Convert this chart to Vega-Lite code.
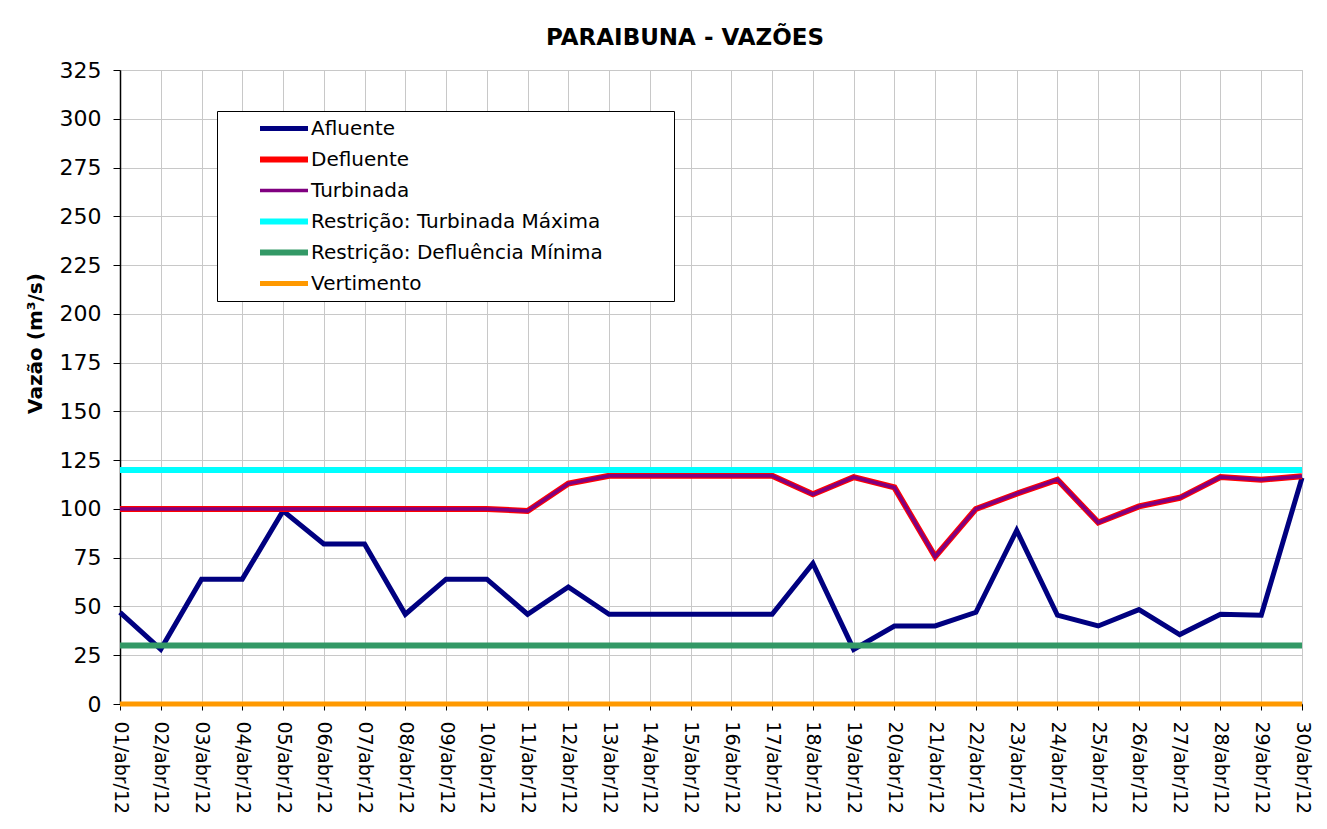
{
  "$schema": "https://vega.github.io/schema/vega-lite/v6.json",
  "autosize": {"type": "none"},
  "width": 1182,
  "height": 634,
  "padding": {"left": 120, "top": 70, "right": 25, "bottom": 125},
  "background": "white",
  "title": {"text": "PARAIBUNA  - VAZÕES", "fontSize": 23, "font": "DejaVu Sans", "fontWeight": "bold", "color": "black", "anchor": "middle", "offset": 9, "dx": -26},
  "config": {
    "font": "DejaVu Sans",
    "view": {"stroke": "#c0c0c0", "strokeWidth": 1},
    "legend": {
      "orient": "none", "legendX": 97, "legendY": 41,
      "strokeColor": "black", "fillColor": "white", "padding": 5,
      "symbolType": "stroke", "symbolSize": 2304, "symbolOffset": 35,
      "labelFontSize": 20, "labelColor": "black", "labelOffset": 0, "labelLimit": 0,
      "clipHeight": 25, "rowPadding": 6,
      "titleOrient": "right", "titlePadding": 66, "titleFontSize": 2
    }
  },
  "data": {"values": [
    {"dia": "01/abr/12", "serie": "Afluente", "valor": 47},
    {"dia": "02/abr/12", "serie": "Afluente", "valor": 28},
    {"dia": "03/abr/12", "serie": "Afluente", "valor": 64},
    {"dia": "04/abr/12", "serie": "Afluente", "valor": 64},
    {"dia": "05/abr/12", "serie": "Afluente", "valor": 99},
    {"dia": "06/abr/12", "serie": "Afluente", "valor": 82},
    {"dia": "07/abr/12", "serie": "Afluente", "valor": 82},
    {"dia": "08/abr/12", "serie": "Afluente", "valor": 46},
    {"dia": "09/abr/12", "serie": "Afluente", "valor": 64},
    {"dia": "10/abr/12", "serie": "Afluente", "valor": 64},
    {"dia": "11/abr/12", "serie": "Afluente", "valor": 46},
    {"dia": "12/abr/12", "serie": "Afluente", "valor": 60},
    {"dia": "13/abr/12", "serie": "Afluente", "valor": 46},
    {"dia": "14/abr/12", "serie": "Afluente", "valor": 46},
    {"dia": "15/abr/12", "serie": "Afluente", "valor": 46},
    {"dia": "16/abr/12", "serie": "Afluente", "valor": 46},
    {"dia": "17/abr/12", "serie": "Afluente", "valor": 46},
    {"dia": "18/abr/12", "serie": "Afluente", "valor": 72},
    {"dia": "19/abr/12", "serie": "Afluente", "valor": 28},
    {"dia": "20/abr/12", "serie": "Afluente", "valor": 40},
    {"dia": "21/abr/12", "serie": "Afluente", "valor": 40},
    {"dia": "22/abr/12", "serie": "Afluente", "valor": 47},
    {"dia": "23/abr/12", "serie": "Afluente", "valor": 89},
    {"dia": "24/abr/12", "serie": "Afluente", "valor": 45.5},
    {"dia": "25/abr/12", "serie": "Afluente", "valor": 40},
    {"dia": "26/abr/12", "serie": "Afluente", "valor": 48.4},
    {"dia": "27/abr/12", "serie": "Afluente", "valor": 35.6},
    {"dia": "28/abr/12", "serie": "Afluente", "valor": 46},
    {"dia": "29/abr/12", "serie": "Afluente", "valor": 45.5},
    {"dia": "30/abr/12", "serie": "Afluente", "valor": 116},
    {"dia": "01/abr/12", "serie": "Defluente", "valor": 100},
    {"dia": "02/abr/12", "serie": "Defluente", "valor": 100},
    {"dia": "03/abr/12", "serie": "Defluente", "valor": 100},
    {"dia": "04/abr/12", "serie": "Defluente", "valor": 100},
    {"dia": "05/abr/12", "serie": "Defluente", "valor": 100},
    {"dia": "06/abr/12", "serie": "Defluente", "valor": 100},
    {"dia": "07/abr/12", "serie": "Defluente", "valor": 100},
    {"dia": "08/abr/12", "serie": "Defluente", "valor": 100},
    {"dia": "09/abr/12", "serie": "Defluente", "valor": 100},
    {"dia": "10/abr/12", "serie": "Defluente", "valor": 100},
    {"dia": "11/abr/12", "serie": "Defluente", "valor": 99},
    {"dia": "12/abr/12", "serie": "Defluente", "valor": 113},
    {"dia": "13/abr/12", "serie": "Defluente", "valor": 117},
    {"dia": "14/abr/12", "serie": "Defluente", "valor": 117},
    {"dia": "15/abr/12", "serie": "Defluente", "valor": 117},
    {"dia": "16/abr/12", "serie": "Defluente", "valor": 117},
    {"dia": "17/abr/12", "serie": "Defluente", "valor": 117},
    {"dia": "18/abr/12", "serie": "Defluente", "valor": 107.5},
    {"dia": "19/abr/12", "serie": "Defluente", "valor": 116.3},
    {"dia": "20/abr/12", "serie": "Defluente", "valor": 111},
    {"dia": "21/abr/12", "serie": "Defluente", "valor": 75.5},
    {"dia": "22/abr/12", "serie": "Defluente", "valor": 100},
    {"dia": "23/abr/12", "serie": "Defluente", "valor": 107.8},
    {"dia": "24/abr/12", "serie": "Defluente", "valor": 115},
    {"dia": "25/abr/12", "serie": "Defluente", "valor": 93},
    {"dia": "26/abr/12", "serie": "Defluente", "valor": 101.3},
    {"dia": "27/abr/12", "serie": "Defluente", "valor": 105.7},
    {"dia": "28/abr/12", "serie": "Defluente", "valor": 116.3},
    {"dia": "29/abr/12", "serie": "Defluente", "valor": 115},
    {"dia": "30/abr/12", "serie": "Defluente", "valor": 116.8},
    {"dia": "01/abr/12", "serie": "Turbinada", "valor": 100},
    {"dia": "02/abr/12", "serie": "Turbinada", "valor": 100},
    {"dia": "03/abr/12", "serie": "Turbinada", "valor": 100},
    {"dia": "04/abr/12", "serie": "Turbinada", "valor": 100},
    {"dia": "05/abr/12", "serie": "Turbinada", "valor": 100},
    {"dia": "06/abr/12", "serie": "Turbinada", "valor": 100},
    {"dia": "07/abr/12", "serie": "Turbinada", "valor": 100},
    {"dia": "08/abr/12", "serie": "Turbinada", "valor": 100},
    {"dia": "09/abr/12", "serie": "Turbinada", "valor": 100},
    {"dia": "10/abr/12", "serie": "Turbinada", "valor": 100},
    {"dia": "11/abr/12", "serie": "Turbinada", "valor": 99},
    {"dia": "12/abr/12", "serie": "Turbinada", "valor": 113},
    {"dia": "13/abr/12", "serie": "Turbinada", "valor": 117},
    {"dia": "14/abr/12", "serie": "Turbinada", "valor": 117},
    {"dia": "15/abr/12", "serie": "Turbinada", "valor": 117},
    {"dia": "16/abr/12", "serie": "Turbinada", "valor": 117},
    {"dia": "17/abr/12", "serie": "Turbinada", "valor": 117},
    {"dia": "18/abr/12", "serie": "Turbinada", "valor": 107.5},
    {"dia": "19/abr/12", "serie": "Turbinada", "valor": 116.3},
    {"dia": "20/abr/12", "serie": "Turbinada", "valor": 111},
    {"dia": "21/abr/12", "serie": "Turbinada", "valor": 75.5},
    {"dia": "22/abr/12", "serie": "Turbinada", "valor": 100},
    {"dia": "23/abr/12", "serie": "Turbinada", "valor": 107.8},
    {"dia": "24/abr/12", "serie": "Turbinada", "valor": 115},
    {"dia": "25/abr/12", "serie": "Turbinada", "valor": 93},
    {"dia": "26/abr/12", "serie": "Turbinada", "valor": 101.3},
    {"dia": "27/abr/12", "serie": "Turbinada", "valor": 105.7},
    {"dia": "28/abr/12", "serie": "Turbinada", "valor": 116.3},
    {"dia": "29/abr/12", "serie": "Turbinada", "valor": 115},
    {"dia": "30/abr/12", "serie": "Turbinada", "valor": 116.8},
    {"dia": "01/abr/12", "serie": "Restrição: Turbinada Máxima", "valor": 120},
    {"dia": "02/abr/12", "serie": "Restrição: Turbinada Máxima", "valor": 120},
    {"dia": "03/abr/12", "serie": "Restrição: Turbinada Máxima", "valor": 120},
    {"dia": "04/abr/12", "serie": "Restrição: Turbinada Máxima", "valor": 120},
    {"dia": "05/abr/12", "serie": "Restrição: Turbinada Máxima", "valor": 120},
    {"dia": "06/abr/12", "serie": "Restrição: Turbinada Máxima", "valor": 120},
    {"dia": "07/abr/12", "serie": "Restrição: Turbinada Máxima", "valor": 120},
    {"dia": "08/abr/12", "serie": "Restrição: Turbinada Máxima", "valor": 120},
    {"dia": "09/abr/12", "serie": "Restrição: Turbinada Máxima", "valor": 120},
    {"dia": "10/abr/12", "serie": "Restrição: Turbinada Máxima", "valor": 120},
    {"dia": "11/abr/12", "serie": "Restrição: Turbinada Máxima", "valor": 120},
    {"dia": "12/abr/12", "serie": "Restrição: Turbinada Máxima", "valor": 120},
    {"dia": "13/abr/12", "serie": "Restrição: Turbinada Máxima", "valor": 120},
    {"dia": "14/abr/12", "serie": "Restrição: Turbinada Máxima", "valor": 120},
    {"dia": "15/abr/12", "serie": "Restrição: Turbinada Máxima", "valor": 120},
    {"dia": "16/abr/12", "serie": "Restrição: Turbinada Máxima", "valor": 120},
    {"dia": "17/abr/12", "serie": "Restrição: Turbinada Máxima", "valor": 120},
    {"dia": "18/abr/12", "serie": "Restrição: Turbinada Máxima", "valor": 120},
    {"dia": "19/abr/12", "serie": "Restrição: Turbinada Máxima", "valor": 120},
    {"dia": "20/abr/12", "serie": "Restrição: Turbinada Máxima", "valor": 120},
    {"dia": "21/abr/12", "serie": "Restrição: Turbinada Máxima", "valor": 120},
    {"dia": "22/abr/12", "serie": "Restrição: Turbinada Máxima", "valor": 120},
    {"dia": "23/abr/12", "serie": "Restrição: Turbinada Máxima", "valor": 120},
    {"dia": "24/abr/12", "serie": "Restrição: Turbinada Máxima", "valor": 120},
    {"dia": "25/abr/12", "serie": "Restrição: Turbinada Máxima", "valor": 120},
    {"dia": "26/abr/12", "serie": "Restrição: Turbinada Máxima", "valor": 120},
    {"dia": "27/abr/12", "serie": "Restrição: Turbinada Máxima", "valor": 120},
    {"dia": "28/abr/12", "serie": "Restrição: Turbinada Máxima", "valor": 120},
    {"dia": "29/abr/12", "serie": "Restrição: Turbinada Máxima", "valor": 120},
    {"dia": "30/abr/12", "serie": "Restrição: Turbinada Máxima", "valor": 120},
    {"dia": "01/abr/12", "serie": "Restrição: Defluência Mínima", "valor": 30},
    {"dia": "02/abr/12", "serie": "Restrição: Defluência Mínima", "valor": 30},
    {"dia": "03/abr/12", "serie": "Restrição: Defluência Mínima", "valor": 30},
    {"dia": "04/abr/12", "serie": "Restrição: Defluência Mínima", "valor": 30},
    {"dia": "05/abr/12", "serie": "Restrição: Defluência Mínima", "valor": 30},
    {"dia": "06/abr/12", "serie": "Restrição: Defluência Mínima", "valor": 30},
    {"dia": "07/abr/12", "serie": "Restrição: Defluência Mínima", "valor": 30},
    {"dia": "08/abr/12", "serie": "Restrição: Defluência Mínima", "valor": 30},
    {"dia": "09/abr/12", "serie": "Restrição: Defluência Mínima", "valor": 30},
    {"dia": "10/abr/12", "serie": "Restrição: Defluência Mínima", "valor": 30},
    {"dia": "11/abr/12", "serie": "Restrição: Defluência Mínima", "valor": 30},
    {"dia": "12/abr/12", "serie": "Restrição: Defluência Mínima", "valor": 30},
    {"dia": "13/abr/12", "serie": "Restrição: Defluência Mínima", "valor": 30},
    {"dia": "14/abr/12", "serie": "Restrição: Defluência Mínima", "valor": 30},
    {"dia": "15/abr/12", "serie": "Restrição: Defluência Mínima", "valor": 30},
    {"dia": "16/abr/12", "serie": "Restrição: Defluência Mínima", "valor": 30},
    {"dia": "17/abr/12", "serie": "Restrição: Defluência Mínima", "valor": 30},
    {"dia": "18/abr/12", "serie": "Restrição: Defluência Mínima", "valor": 30},
    {"dia": "19/abr/12", "serie": "Restrição: Defluência Mínima", "valor": 30},
    {"dia": "20/abr/12", "serie": "Restrição: Defluência Mínima", "valor": 30},
    {"dia": "21/abr/12", "serie": "Restrição: Defluência Mínima", "valor": 30},
    {"dia": "22/abr/12", "serie": "Restrição: Defluência Mínima", "valor": 30},
    {"dia": "23/abr/12", "serie": "Restrição: Defluência Mínima", "valor": 30},
    {"dia": "24/abr/12", "serie": "Restrição: Defluência Mínima", "valor": 30},
    {"dia": "25/abr/12", "serie": "Restrição: Defluência Mínima", "valor": 30},
    {"dia": "26/abr/12", "serie": "Restrição: Defluência Mínima", "valor": 30},
    {"dia": "27/abr/12", "serie": "Restrição: Defluência Mínima", "valor": 30},
    {"dia": "28/abr/12", "serie": "Restrição: Defluência Mínima", "valor": 30},
    {"dia": "29/abr/12", "serie": "Restrição: Defluência Mínima", "valor": 30},
    {"dia": "30/abr/12", "serie": "Restrição: Defluência Mínima", "valor": 30},
    {"dia": "01/abr/12", "serie": "Vertimento", "valor": 0},
    {"dia": "02/abr/12", "serie": "Vertimento", "valor": 0},
    {"dia": "03/abr/12", "serie": "Vertimento", "valor": 0},
    {"dia": "04/abr/12", "serie": "Vertimento", "valor": 0},
    {"dia": "05/abr/12", "serie": "Vertimento", "valor": 0},
    {"dia": "06/abr/12", "serie": "Vertimento", "valor": 0},
    {"dia": "07/abr/12", "serie": "Vertimento", "valor": 0},
    {"dia": "08/abr/12", "serie": "Vertimento", "valor": 0},
    {"dia": "09/abr/12", "serie": "Vertimento", "valor": 0},
    {"dia": "10/abr/12", "serie": "Vertimento", "valor": 0},
    {"dia": "11/abr/12", "serie": "Vertimento", "valor": 0},
    {"dia": "12/abr/12", "serie": "Vertimento", "valor": 0},
    {"dia": "13/abr/12", "serie": "Vertimento", "valor": 0},
    {"dia": "14/abr/12", "serie": "Vertimento", "valor": 0},
    {"dia": "15/abr/12", "serie": "Vertimento", "valor": 0},
    {"dia": "16/abr/12", "serie": "Vertimento", "valor": 0},
    {"dia": "17/abr/12", "serie": "Vertimento", "valor": 0},
    {"dia": "18/abr/12", "serie": "Vertimento", "valor": 0},
    {"dia": "19/abr/12", "serie": "Vertimento", "valor": 0},
    {"dia": "20/abr/12", "serie": "Vertimento", "valor": 0},
    {"dia": "21/abr/12", "serie": "Vertimento", "valor": 0},
    {"dia": "22/abr/12", "serie": "Vertimento", "valor": 0},
    {"dia": "23/abr/12", "serie": "Vertimento", "valor": 0},
    {"dia": "24/abr/12", "serie": "Vertimento", "valor": 0},
    {"dia": "25/abr/12", "serie": "Vertimento", "valor": 0},
    {"dia": "26/abr/12", "serie": "Vertimento", "valor": 0},
    {"dia": "27/abr/12", "serie": "Vertimento", "valor": 0},
    {"dia": "28/abr/12", "serie": "Vertimento", "valor": 0},
    {"dia": "29/abr/12", "serie": "Vertimento", "valor": 0},
    {"dia": "30/abr/12", "serie": "Vertimento", "valor": 0}
  ]},
  "mark": {"type": "line", "clip": false},
  "encoding": {
    "x": {
      "field": "dia", "type": "ordinal", "sort": null,
      "scale": {"type": "point", "padding": 0},
      "axis": {
        "title": null, "grid": true, "gridColor": "#c8c8c8", "gridWidth": 1,
        "labelAngle": 90, "labelFontSize": 19, "labelColor": "black", "labelPadding": 11,
        "tickSize": 6, "tickColor": "black", "domainColor": "black", "domainWidth": 1.5
      }
    },
    "y": {
      "field": "valor", "type": "quantitative",
      "scale": {"domain": [0, 325], "nice": false, "zero": true},
      "axis": {
        "title": "Vazão (m³/s)", "titleFontSize": 20, "titleFontWeight": "bold", "titleColor": "black",
        "titleX": -85, "titleY": 273, "titleBaseline": "middle",
        "values": [0, 25, 50, 75, 100, 125, 150, 175, 200, 225, 250, 275, 300, 325],
        "grid": true, "gridColor": "#c8c8c8", "gridWidth": 1,
        "labelFontSize": 22, "labelColor": "black", "labelPadding": 12,
        "tickSize": 7, "tickColor": "black", "domainColor": "black", "domainWidth": 1.5
      }
    },
    "color": {
      "field": "serie", "type": "nominal", "sort": null,
      "legend": {"title": " "},
      "scale": {
        "domain": ["Afluente", "Defluente", "Turbinada", "Restrição: Turbinada Máxima", "Restrição: Defluência Mínima", "Vertimento"],
        "range": ["#000080", "#ff0000", "#800080", "#00ffff", "#339966", "#ff9900"]
      }
    },
    "strokeWidth": {
      "field": "serie", "type": "nominal", "sort": null,
      "legend": {"title": " "},
      "scale": {
        "type": "ordinal",
        "domain": ["Afluente", "Defluente", "Turbinada", "Restrição: Turbinada Máxima", "Restrição: Defluência Mínima", "Vertimento"],
        "range": [5, 6, 3.5, 6, 6, 5]
      }
    }
  }
}
